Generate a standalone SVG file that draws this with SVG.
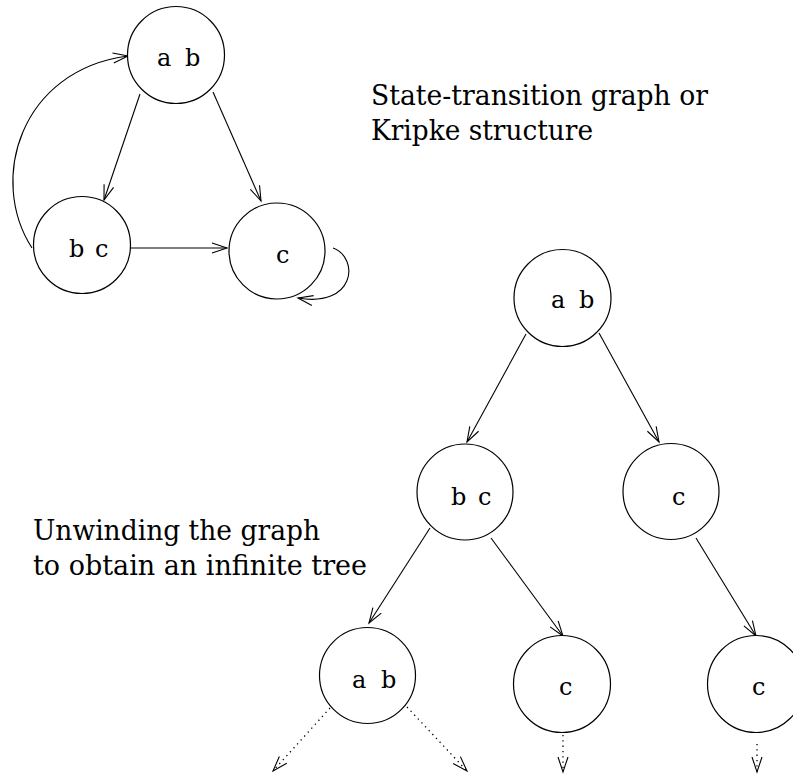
<svg xmlns="http://www.w3.org/2000/svg" width="793" height="782" viewBox="0 0 793 782">
<style>
.node circle{fill:#fff;stroke:#000;stroke-width:1.2}
text{font-family:'DejaVu Serif','Liberation Serif',serif;fill:#000}
.lbl{font-size:24px}
.cap{font-size:27px}
.edge{fill:none;stroke:#000;stroke-width:1.1;marker-end:url(#ah)}
.dot{fill:none;stroke:#000;stroke-width:1.3;stroke-dasharray:1.3 4;marker-end:url(#ah)}
</style>
<defs>
<marker id="ah" markerUnits="userSpaceOnUse" markerWidth="20" markerHeight="20" refX="0" refY="0" orient="auto" overflow="visible">
<path d="M-15,-5 L0,0 L-15,5" fill="none" stroke="#000" stroke-width="1.1"/>
</marker>
</defs>
<rect width="793" height="782" fill="#fff"/>
<g id="connectors">
<line class="edge" x1="140" y1="94" x2="104" y2="200"/>
<line class="edge" x1="213" y1="92" x2="261" y2="201"/>
<line class="edge" x1="129" y1="248" x2="227" y2="248"/>
<path class="edge" d="M32,248 C-12,180 20,70 128,56"/>
<path class="edge" d="M333,248 C360,258 355,308 298,298"/>
<line class="edge" x1="526" y1="334" x2="467" y2="442"/>
<line class="edge" x1="599" y1="333" x2="659" y2="442"/>
<line class="edge" x1="430" y1="528" x2="369" y2="623"/>
<line class="edge" x1="491" y1="538" x2="563" y2="636"/>
<line class="edge" x1="696" y1="538" x2="756" y2="636"/>
<line class="dot" x1="330" y1="708" x2="273" y2="771"/>
<line class="dot" x1="407" y1="707" x2="467" y2="771"/>
<line class="dot" x1="563" y1="735" x2="563" y2="772"/>
<line class="dot" x1="757" y1="744" x2="757" y2="772"/>
</g>
<g id="g-ab" class="node"><circle cx="176" cy="55" r="48.5"/><text class="lbl" y="66"><tspan x="157">a</tspan><tspan x="185">b</tspan></text></g>
<g id="g-bc" class="node"><circle cx="82" cy="245" r="48.5"/><text class="lbl" y="257"><tspan x="69">b</tspan><tspan x="95">c</tspan></text></g>
<g id="g-c" class="node"><circle cx="277" cy="251" r="48"/><text class="lbl" x="276" y="263">c</text></g>
<g id="t-ab" class="node"><circle cx="562.5" cy="298" r="48.5"/><text class="lbl" y="308"><tspan x="551">a</tspan><tspan x="579">b</tspan></text></g>
<g id="t-bc" class="node"><circle cx="465" cy="492" r="48"/><text class="lbl" y="505"><tspan x="451">b</tspan><tspan x="478">c</tspan></text></g>
<g id="t-c" class="node"><circle cx="671" cy="491.5" r="48"/><text class="lbl" x="672" y="505">c</text></g>
<g id="t-ab2" class="node"><circle cx="367.5" cy="675.5" r="48"/><text class="lbl" y="688"><tspan x="352">a</tspan><tspan x="381">b</tspan></text></g>
<g id="t-c2" class="node"><circle cx="562" cy="684" r="48.5"/><text class="lbl" x="559" y="695">c</text></g>
<g id="t-c3" class="node"><circle cx="756" cy="684" r="48.5"/><text class="lbl" x="752" y="695">c</text></g>
<g id="captions">
<text class="cap" x="371" y="105" textLength="337" lengthAdjust="spacingAndGlyphs">State-transition graph or</text>
<text class="cap" x="371" y="140" textLength="222" lengthAdjust="spacingAndGlyphs">Kripke structure</text>
<text class="cap" x="33" y="540" textLength="287" lengthAdjust="spacingAndGlyphs">Unwinding the graph</text>
<text class="cap" x="33" y="575" textLength="334" lengthAdjust="spacingAndGlyphs">to obtain an infinite tree</text>
</g>
</svg>
